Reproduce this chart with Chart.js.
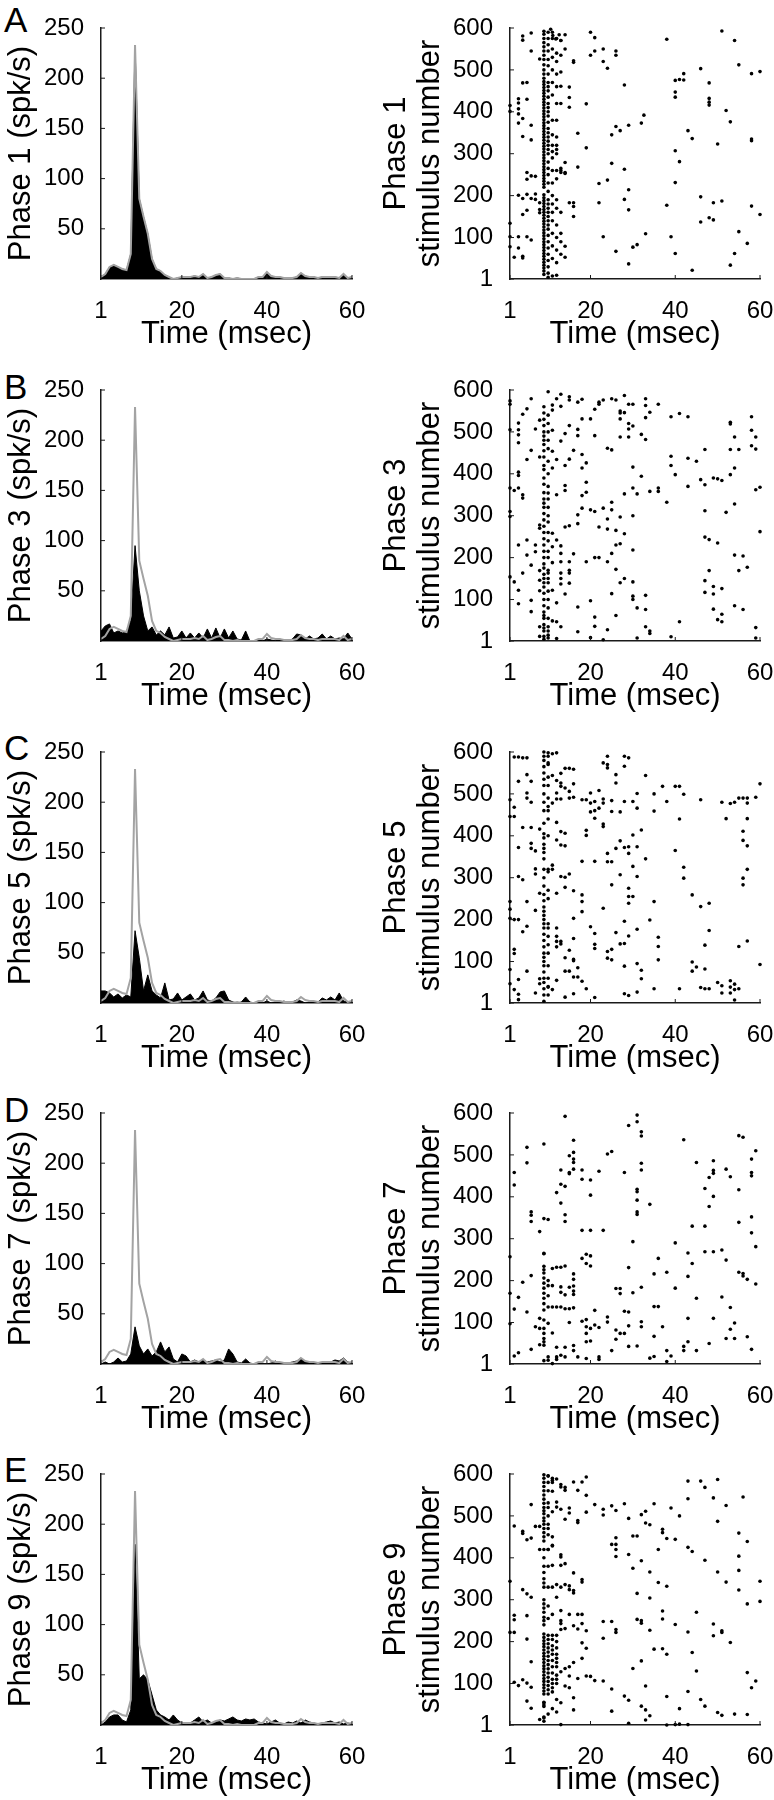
<!DOCTYPE html>
<html>
<head>
<meta charset="utf-8">
<script src="https://cdn.jsdelivr.net/npm/chart.js@4.4.1/dist/chart.umd.min.js"></script>
<style>
  body { margin: 0; width: 774px; height: 1800px; overflow: hidden; background: #fff; position: relative;
         font-family: 'Liberation Sans', Arial, sans-serif; }
  canvas { position: absolute; }
  .lbl { position: absolute; left: 4px; font-size: 35px; line-height: 35px; color: #000; }
</style>
</head>
<body>
<script>
// ---- data ----
const times = [1,2,3,4,5,6,7,8,9,10,11,12,13,14,15,16,17,18,19,20,21,22,23,24,25,26,27,28,29,30,
               31,32,33,34,35,36,37,38,39,40,41,42,43,44,45,46,47,48,49,50,51,52,53,54,55,56,57,58,59,60];
const psthTicksX = [1, 20, 40, 60];
const psthTicksY = [50, 100, 150, 200, 250];
const rasterTicksY = [1, 100, 200, 300, 400, 500, 600];

// spikes/s per 1 ms bin
const phase1Rate = [2,5,12,14,12,10,9,25,233,80, 62,45,20,10,8,4,2,0,1,2, 2,2,3,2,5,1,2,4,5,1,
                    1,0,1,0,0,0,0,2,2,7, 3,2,2,1,1,1,2,6,3,2, 2,1,2,2,2,2,1,5,1,2];
const phase3Rate = [10,15,17,8,10,8,10,20,95,50, 25,10,14,6,10,6,14,3,4,10, 3,8,3,8,3,12,3,13,3,12,
                    3,10,2,1,10,0,0,1,0,2, 1,0,2,0,0,2,7,6,2,5, 2,3,7,2,5,2,3,2,8,2];
const phase5Rate = [12,12,10,6,9,5,8,6,72,45, 12,28,12,8,5,20,3,4,10,3, 6,9,3,5,12,3,2,5,11,12,
                    3,1,0,1,6,1,0,0,0,2, 0,1,0,2,0,1,3,2,0,1, 0,1,5,3,6,3,10,2,1,0];
const phase7Rate = [0,2,0,2,6,2,3,10,37,18, 10,15,8,12,22,12,17,5,2,10, 8,2,4,2,4,2,3,4,2,4,
                    15,10,2,1,5,1,0,0,0,0, 1,3,0,1,1,2,3,6,2,2, 1,1,1,1,2,4,3,6,2,1];
const phase9Rate = [0,3,8,10,10,5,3,15,180,46, 50,45,30,15,10,8,5,10,5,2, 0,2,5,8,3,5,2,3,5,4,
                    6,8,5,4,6,5,6,3,2,1, 3,5,2,1,3,2,4,2,5,3, 2,1,2,3,4,2,3,1,2,1];

// raster: dense columns [time, [stimulus numbers]] and scattered spikes [time, stimulus]
const rasterACols = [
  [9, [12,20,27,34,41,48,55,62,69,76,83,90,97,104,111,118,125,132,139,146,153,160,167,174,181,188,195,202,220,227,234,241,248,255,262,269,276,283,290,297,304,311,318,325,332,339,346,353,360,367,374,381,388,395,402,409,416,423,430,437,444,451,458,465,472,480,490,500,512,525,535,545,555,565,575,585,592]],
  [10, [5,15,30,45,60,75,90,105,120,130,140,150,160,170,180,190,210,230,250,265,280,300,310,320,330,340,350,360,375,390,400,410,420,435,450,460,470,490,510,525,545,560,575,590]],
  [11, [8,50,80,110,140,160,180,200,230,260,290,305,320,345,380,440,470,500,530,550,575,590]],
  [12, [10,40,70,100,130,170,190,240,260,300,310,320,340,380,420,460,490,520,540,575]],
  [13, [60,90,110,160,260,420,495,535,570]]
];
const rasterADots = [
  [4,581],[4,571],[6,588],[6,545],[8,526],[10.6,597],[11.1,582],[11.8,574],[12.6,584],[13,570],[14,584],
  [14,550],[16,522],[16,518],[20,590],[21,577],[20,535],[21,545],[23,550],[23,520],[24,504],[26,545],[26,535],
  [38,573],[51,593],[54,570],[55,512],[58,491],[60,496],[46,503],[48,469],
  [40,475],[41,477],[42,476],[42,491],[40,447],[40,435],[48,432],[48,423],[48,416],[52,403],[53,376],
  [32.6,392],[32,373],[29,368],[28,464],[26,365],[27,355],[25,345],[19,419],[17,349],
  [15,459],[15,434],[15,411],[13,461],
  [4,469],[5,470],[3,431],[3,421],[3,407],[5,430],[1,415],[1,401],[3,395],[4,384],[3,373],[6,368],[4,341],[6,333],
  [5,255],[6,247],[7,246],[5,239],
  [43,355],[44,336],[50,323],[58,335],[58,331],[40,307],[41,281],[40,231],[38,177],[46,197],[49,183],[51,187],
  [48,147],[49,142],[46,137],[58,175],[60,155],[55,114],[57,86],[54,62],[53,34],[44,22],[40,62],[39,102],
  [33,109],[31,83],[30,77],[29,37],[26,67],[23,102],
  [22,229],[24,237],[25,277],[28,263],[29,214],[28,191],[29,166],[22,183],[17,268],[19,314],
  [16,183],[16,174],[16,150],[15,183],[14,279],[14,255],[14,253],[13,265],[13,255],
  [1,134],[1,102],[1,78],[2,53],[3,102],[3,75],[4,55],[4,51],[5,102],[6,94],[4,155],[5,165],
  [3,201],[4,193],[5,203],[6,193],[7,204],[7,191],[8,183],[8,167],[8,159],[14,79],[14,53]
];

const rasterBCols = [
  [9, [5,12,25,32,40,55,62,70,85,100,115,130,140,150,160,175,185,200,215,230,245,260,275,290,305,320,330,340,355,375,390,410,420,440,455,470,480,490,500,515,530,545,560]],
  [10, [15,35,55,80,100,120,140,170,200,215,240,260,285,300,320,340,370,400,430,460,480,500,520,540]]
];
const rasterBDots = [
  [1,574],[1,566],[6,579],[5,555],[3,521],[4,542],[3,505],[3,493],[3,474],[1,505],[7,507],[6,456],[5,434],[8,440],[8,528],
  [10,596],[11,564],[11,552],[12,579],[13,590],[13,561],[15,584],[15,576],[17,571],[18,578],[18,531],[17,506],[17,491],
  [15,515],[14,496],[13,478],[11,504],[11,454],[12,434],[14,420],[15,435],[16,456],[18,446],[19,426],[18,414],[19,380],
  [18,348],[19,356],[14,372],[14,360],[12,350],[11,414],[10,354],
  [21,554],[22,571],[23,576],[22,566],[25,579],[26,576],[28,587],[27,550],[27,545],[28,546],[29,566],[30,566],[27,531],
  [29,520],[29,507],[30,514],[27,488],[29,488],[32,494],[33,482],[33,579],[33,563],[33,534],[34,547],[36,566],[21,491],
  [20,531],[24,461],[25,457],
  [39,536],[41,544],[43,536],[39,442],[39,420],[40,398],[43,437],[45,430],[43,370],[46,386],[47,374],[47,458],[49,390],
  [50,388],[51,384],[53,398],[54,414],[53,458],[55,458],[54,488],[53,523],[53,519],[58,536],[58,504],[59,488],[58,467],
  [59,459],[60,368],[59,362],[36,366],[36,358],[32,394],[34,358],[30,416],[30,366],[28,352],[31,352],
  [38,332],[47,312],[52,308],[54,328],[60,262],[47,249],[48,243],[50,235],[54,206],[56,204],[55,169],[57,177],[48,169],
  [47,145],[49,131],[51,126],[47,117],[49,113],[49,77],[50,52],[51,47],[51,65],[54,85],[56,76],[59,33],[59,8],[41,47],
  [39,11],[34,25],[34,19],[33,35],[33,76],[31,80],[30,108],[30,100],[33,110],[30,142],[27,140],[28,150],[26,172],[25,210],
  [26,230],[27,233],[26,265],[28,257],[30,218],[24,268],[24,292],[27,297],[30,300],[25,314],[25,332],[23,318],[22,273],
  [21,310],[20,314],[17,281],[15,276],[14,273],[17,302],[18,318],[19,190],[21,200],[22,200],[24,190],[25,114],[26,62],
  [24,28],[23,4],[21,36],[21,58],[20,9],[20,97],[17,82],[17,23],[31,8],
  [1,154],[2,142],[3,122],[3,90],[4,163],[3,230],[5,242],[5,206],[6,182],[6,98],[6,71],[8,270],[8,278],[7,214],[7,230],
  [4,342],[4,350],[3,366],[1,366],[2,360],[3,404],[3,396],[1,310],[1,298],[8,35],[8,12],[8,121],[8,146],[8,169],
  [11,258],[12,242],[11,226],[13,228],[13,210],[13,190],[11,188],[10,163],[10,150],[13,163],[13,150],[13,137],[11,122],
  [14,113],[12,92],[11,49],[12,47],[13,35],[10,25],[10,8],[12,7],[15,163],[15,139],[16,209],[15,190],[15,170]
];

const rasterCCols = [
  [9, [5,20,35,50,60,75,90,100,110,120,135,150,165,180,190,200,210,220,230,245,260,280,300,320,345,360,370,380,395,405,430,460,480,500,520,535,550,565,580,590,600]],
  [10, [20,40,60,90,120,140,160,180,190,250,270,320,400,440,460,470,490,520,540,570,590]]
];
const rasterCDots = [
  [2,588],[3,588],[4,586],[5,586],[5,546],[6,530],[3,530],[5,502],[5,490],[6,480],[1,486],[2,468],[1,446],[2,446],[4,420],
  [6,420],[8,416],[3,372],[6,382],[6,370],[7,364],[7,321],[7,309],[3,303],[4,295],[5,243],[7,222],[8,263],[1,243],[1,225],
  [1,203],[2,200],[3,200],[4,171],[5,184],[2,129],[2,119],[1,81],[3,57],[5,77],[7,25],[8,59],[8,47],[2,33],[3,22],[3,9],[1,47],
  [10,598],[10,574],[11,596],[12,598],[11,544],[12,532],[13,549],[14,561],[15,561],[16,559],[13,526],[13,518],[14,514],
  [16,524],[12,502],[12,488],[15,506],[15,490],[16,492],[13,488],[11,478],[12,432],[13,410],[14,406],[13,378],[14,376],
  [12,390],[11,330],[10,314],[11,320],[13,303],[14,301],[15,309],[14,277],[12,263],[16,269],[18,259],[18,243],[18,219],
  [16,203],[12,180],[12,160],[12,148],[13,148],[13,142],[12,135],[15,127],[16,105],[16,102],[14,109],[16,155],[14,77],
  [15,77],[17,85],[16,63],[17,63],[18,53],[19,35],[14,15],[16,23],[12,55],[11,33],[10,39],[21,14],
  [18,486],[19,486],[20,502],[20,478],[21,482],[22,466],[21,460],[22,508],[23,488],[23,478],[24,590],[24,570],[24,562],
  [23,574],[26,546],[26,526],[28,590],[28,566],[29,586],[25,484],[25,458],[27,457],[28,482],[30,482],[31,466],[31,501],
  [33,544],[35,500],[35,459],[37,518],[38,482],[40,518],[41,518],[42,499],[41,440],[40,365],[32,414],[30,402],[28,372],
  [29,374],[29,358],[27,388],[26,370],[31,374],[24,358],[24,338],[23,428],[23,422],[21,442],[20,457],[19,413],[19,401],
  [18,339],[21,339],[25,338],[27,307],[30,327],[31,303],[33,345],[29,275],[30,255],[29,255],[29,239],[25,283],[35,243],
  [42,325],[42,299],[44,259],[46,231],[48,239],[48,174],[47,139],[47,82],[44,99],[44,77],[45,87],[36,158],[36,136],
  [36,104],[34,199],[31,177],[28,196],[29,161],[28,143],[27,142],[26,169],[24,124],[25,129],[24,108],[25,104],[23,227],
  [20,183],[21,167],[21,141],[21,131],[28,89],[31,95],[32,79],[32,59],[35,35],[41,35],[28,23],[29,19],[31,27],
  [46,486],[51,480],[53,477],[54,480],[55,490],[56,490],[57,490],[57,478],[59,492],[60,524],[52,441],[57,441],[56,411],
  [56,389],[57,376],[56,299],[56,283],[57,320],[57,149],[55,136],[60,93],[50,50],[51,42],[51,25],[53,54],[53,39],[53,25],
  [54,46],[55,35],[54,33],[54,8],[46,38],[47,35],[48,35]
];

const rasterDCols = [
  [9, [46,54,62,74,86,106,130,145,158,170,182,194,206,218,226,234,264]]
];
const rasterDDots = [
  [2,458],[2,428],[5,518],[5,481],[9,526],[14,592],[16,535],[16,506],[15,498],[16,490],[16,482],[15,455],[15,458],[16,466],
  [13,464],[13,430],[14,425],[14,357],[14,341],[13,385],[12,410],[18,464],[18,442],[20,440],[20,404],[22,461],[24,502],
  [25,508],[28,458],[29,570],[31,595],[31,579],[32,555],[32,545],[32,480],[32,464],[31,418],[31,412],[31,392],[31,364],
  [31,358],[34,382],
  [6,364],[6,356],[6,341],[8,317],[9,348],[10,346],[18,320],[20,320],[23,320],[30,293],[40,290],
  [18,253],[19,263],[20,259],[19,241],[20,235],[9,265],[14,235],[13,232],[11,229],[12,232],
  [16,216],[16,203],[16,187],[16,175],[16,167],[15,184],[13,185],[13,172],[14,166],
  [10,200],[10,188],[10,164],[10,137],[11,188],[11,137],[12,137],[13,137],[14,133],[15,133],[16,135],
  [10,98],[11,75],[8,110],[8,86],[8,47],[7,90],[6,36],[2,20],[3,28],[1,97],[2,132],[3,160],[4,196],[6,212],[5,125],[1,257],[1,170],
  [12,18],[12,12],[10,18],[10,10],[9,9],[11,2],[13,22],[14,41],[14,18],[16,45],[16,33],[17,18],[19,14],[12,41],
  [15,100],[18,103],[19,107],[19,90],[19,74],[19,54],[20,86],[20,56],[21,129],[21,94],[22,88],[22,18],[22,12],[24,113],
  [24,101],[25,33],[26,181],[27,181],[27,169],[26,82],[27,74],[26,60],[28,74],[28,127],[29,125],[29,92],[29,43],[31,44],
  [29,231],[30,171],[32,184],[32,102],[32,90],[34,15],[35,19],[35,216],[35,67],[35,138],[36,138],[36,253],[37,90],
  [38,220],[38,33],[39,20],[38,7],[40,182],[42,33],[42,43],[43,54],[43,210],[43,266],[44,241],[43,110],[44,330],[45,158],
  [45,33],[45,482],[47,330],[47,420],[48,377],[48,446],[49,463],[49,456],[49,486],[49,401],[47,269],[49,269],[51,273],
  [49,110],[48,50],[51,161],[52,249],[52,466],[53,448],[52,62],[53,136],[53,84],[54,99],[54,62],[55,417],[55,339],
  [55,220],[56,217],[56,211],[57,203],[55,546],[56,542],[57,66],[58,36],[58,490],[58,458],[58,450],[58,352],[58,314],
  [59,510],[59,281],[59,192],[42,536]
];

const rasterECols = [
  [9, [10,20,45,55,75,82,90,97,105,112,120,128,135,142,150,158,165,172,180,188,195,202,210,218,240,250,258,270,280,290,300,330,340,350,365,380,400,420,440,450,460,470,480,488,495,505,512,520,530,540,550,560,570,580,590,598]],
  [10, [75,85,95,105,115,125,135,145,155,165,175,185,195,205,215,255,285,330,380,420,455,470,480,500,520,560,580,595]],
  [11, [80,90,100,110,125,140,155,170,180,190,205,215,265,330,430,450,510,580]],
  [12, [100,110,120,140,150,160,170,185,200,215]]
];
const rasterEDots = [
  [10,596],[11,590],[12,588],[11,585],[13,575],[14,568],[13,569],[14,561],[11,559],[16,581],[17,561],[19,593],[19,549],
  [18,581],[12,521],[13,516],[14,492],[15,519],[15,507],[17,489],[17,484],[19,509],[12,533],[10,531],[6,527],[8,475],
  [7,475],[5,443],[6,447],[4,463],[4,458],[2,476],[1,344],[4,324],[5,314],[6,306],[2,263],[2,252],[5,262],[1,222],[2,222],
  [5,206],[6,152],[3,95],[4,109],[5,101],[6,91],[2,103],[5,58],[6,41],
  [8,420],[10,420],[11,428],[12,336],[11,382],[13,382],[13,407],[13,402],[14,386],[13,330],[14,336],[12,306],[13,274],
  [13,250],[13,243],[13,229],[14,231],[15,265],[17,265],[18,265],[16,238],[17,230],[18,243],[19,226],[18,197],[19,184],
  [18,160],[16,150],[15,140],[14,136],[13,128],[15,118],[17,112],[19,118],[20,117],[21,107],[23,106],[14,94],[15,90],
  [13,54],[12,62],[11,40],[10,27],[9,18],[8,14],[9,54],[9,49],[13,2],[12,32],[16,66],[16,37],[16,316],[16,322],[18,348],
  [18,342],[16,364],[15,333],[15,324],
  [21,527],[23,516],[23,502],[25,524],[26,513],[28,529],[29,494],[32,503],[33,483],[34,479],[33,511],[35,529],[26,448],
  [26,432],[25,432],[26,420],[26,403],[29,408],[30,452],[31,452],[30,375],[32,393],[34,366],[36,420],[37,468],[37,460],
  [38,446],[40,444],[39,519],[41,500],[43,583],[43,541],[46,583],[47,568],[49,543],[50,587],[52,525],[50,487],[56,545],
  [55,459],[57,439],[55,404],[55,370],[52,342],[55,323],[57,290],[60,344],[60,296],[50,366],[47,394],[43,425],[44,415],
  [38,332],[36,341],[31,315],[34,304],[40,241],[37,273],[37,254],[45,270],[43,223],[49,242],[49,214],[51,226],[51,222],
  [53,198],[44,174],[45,130],[38,170],[37,183],[35,182],[32,154],[30,136],[33,94],[32,250],[32,244],[31,253],[34,227],
  [26,229],[26,222],[25,248],[23,248],[23,208],[25,87],[25,34],[28,70],[29,60],[29,5],[32,46],[33,37],[33,13],[34,23],
  [38,69],[38,1],[40,2],[41,3],[43,2],[41,40],[43,81],[46,62],[47,46],[50,31],[51,24],[54,27],[57,26],[57,126],[59,106],[58,90]
];

// ---- layout / style ----
const AXIS = '#1a1a1a';
const GRAY = '#a3a3a3';
const rowTops = [28, 390, 752, 1113, 1474];
const panels = [
  { letter: 'A', phase: 1, rate: phase1Rate, cols: rasterACols, dots: rasterADots, lblTop: 2 },
  { letter: 'B', phase: 3, rate: phase3Rate, cols: rasterBCols, dots: rasterBDots, lblTop: 369 },
  { letter: 'C', phase: 5, rate: phase5Rate, cols: rasterCCols, dots: rasterCDots, lblTop: 730 },
  { letter: 'D', phase: 7, rate: phase7Rate, cols: rasterDCols, dots: rasterDDots, lblTop: 1092 },
  { letter: 'E', phase: 9, rate: phase9Rate, cols: rasterECols, dots: rasterEDots, lblTop: 1452 }
];

Chart.defaults.font.family = "'Liberation Sans', Arial, Helvetica, sans-serif";
Chart.defaults.color = '#000';

// MATLAB-style short ticks pointing into the plot
const innerTicks = {
  id: 'innerTicks',
  afterDraw(chart) {
    const { ctx, chartArea: a, scales: { x, y } } = chart;
    ctx.save();
    ctx.strokeStyle = AXIS;
    ctx.lineWidth = 1;
    ctx.beginPath();
    x.ticks.forEach(t => { const p = x.getPixelForValue(t.value); ctx.moveTo(p, a.bottom); ctx.lineTo(p, a.bottom - 4); });
    y.ticks.forEach(t => { const p = y.getPixelForValue(t.value); ctx.moveTo(a.left, p); ctx.lineTo(a.left + 4, p); });
    ctx.stroke();
    ctx.restore();
  }
};

function xAxis() {
  return {
    type: 'linear', min: 1, max: 60,
    afterBuildTicks: s => { s.ticks = psthTicksX.map(v => ({ value: v })); },
    afterFit: s => { s.height = 81; },
    grid: { display: false },
    border: { display: true, color: AXIS, width: 1.5 },
    ticks: { font: { size: 24 }, padding: 10, maxRotation: 0 },
    title: { display: true, text: 'Time (msec)', font: { size: 31 }, padding: { top: 0, bottom: 7 } }
  };
}

function baseOptions(yAxis, padRight) {
  return {
    responsive: false, animation: false, events: [],
    layout: { padding: { top: 28, right: padRight, left: 0, bottom: 0 } },
    plugins: { legend: { display: false }, tooltip: { enabled: false } },
    scales: { x: xAxis(), y: yAxis }
  };
}

function addCanvas(left, top, w, h) {
  const c = document.createElement('canvas');
  c.width = w; c.height = h;
  c.style.left = left + 'px'; c.style.top = top + 'px';
  document.body.appendChild(c);
  return c;
}

panels.forEach((p, r) => {
  const top = rowTops[r] - 28;

  const lbl = document.createElement('div');
  lbl.className = 'lbl';
  lbl.style.top = p.lblTop + 'px';
  lbl.textContent = p.letter;
  document.body.appendChild(lbl);

  // PSTH
  const psthY = {
    type: 'linear', min: 0, max: 250,
    afterBuildTicks: s => { s.ticks = psthTicksY.map(v => ({ value: v })); },
    afterFit: s => { s.width = 101; },
    grid: { display: false },
    border: { display: true, color: AXIS, width: 1.5 },
    ticks: { font: { size: 24 }, padding: 9 },
    title: { display: true, text: 'Phase ' + p.phase + ' (spk/s)', font: { size: 31 }, padding: { top: 3, bottom: 0 } }
  };
  new Chart(addCanvas(0, top, 387, 360), {
    type: 'line',
    data: {
      datasets: [
        { data: times.map((t, i) => ({ x: t, y: phase1Rate[i] })), borderColor: GRAY, borderWidth: 2,
          pointRadius: 0, fill: false, tension: 0 },
        { data: times.map((t, i) => ({ x: t, y: p.rate[i] })), borderColor: '#000', backgroundColor: '#000',
          borderWidth: 1, pointRadius: 0, fill: 'origin', tension: 0 }
      ]
    },
    options: baseOptions(psthY, 35),
    plugins: [innerTicks]
  });

  // raster
  const pts = [];
  p.cols.forEach(([t, list]) => list.forEach(s => pts.push({ x: t, y: s })));
  p.dots.forEach(([t, s]) => pts.push({ x: t, y: s }));
  const rasterY = {
    type: 'linear', min: 1, max: 600,
    afterBuildTicks: s => { s.ticks = rasterTicksY.map(v => ({ value: v })); },
    afterFit: s => { s.width = 140; },
    grid: { display: false },
    border: { display: true, color: AXIS, width: 1.5 },
    ticks: { font: { size: 24 }, padding: 9 },
    title: { display: true, text: ['Phase ' + p.phase, 'stimulus number'], font: { size: 31, lineHeight: 1.1 },
             padding: { top: 9, bottom: 0 } }
  };
  new Chart(addCanvas(370, top, 420, 360), {
    type: 'scatter',
    data: { datasets: [{ data: pts, pointRadius: 1.8, pointBackgroundColor: '#000', pointBorderWidth: 0, clip: false }] },
    options: baseOptions(rasterY, 30),
    plugins: [innerTicks]
  });
});
</script>
</body>
</html>
